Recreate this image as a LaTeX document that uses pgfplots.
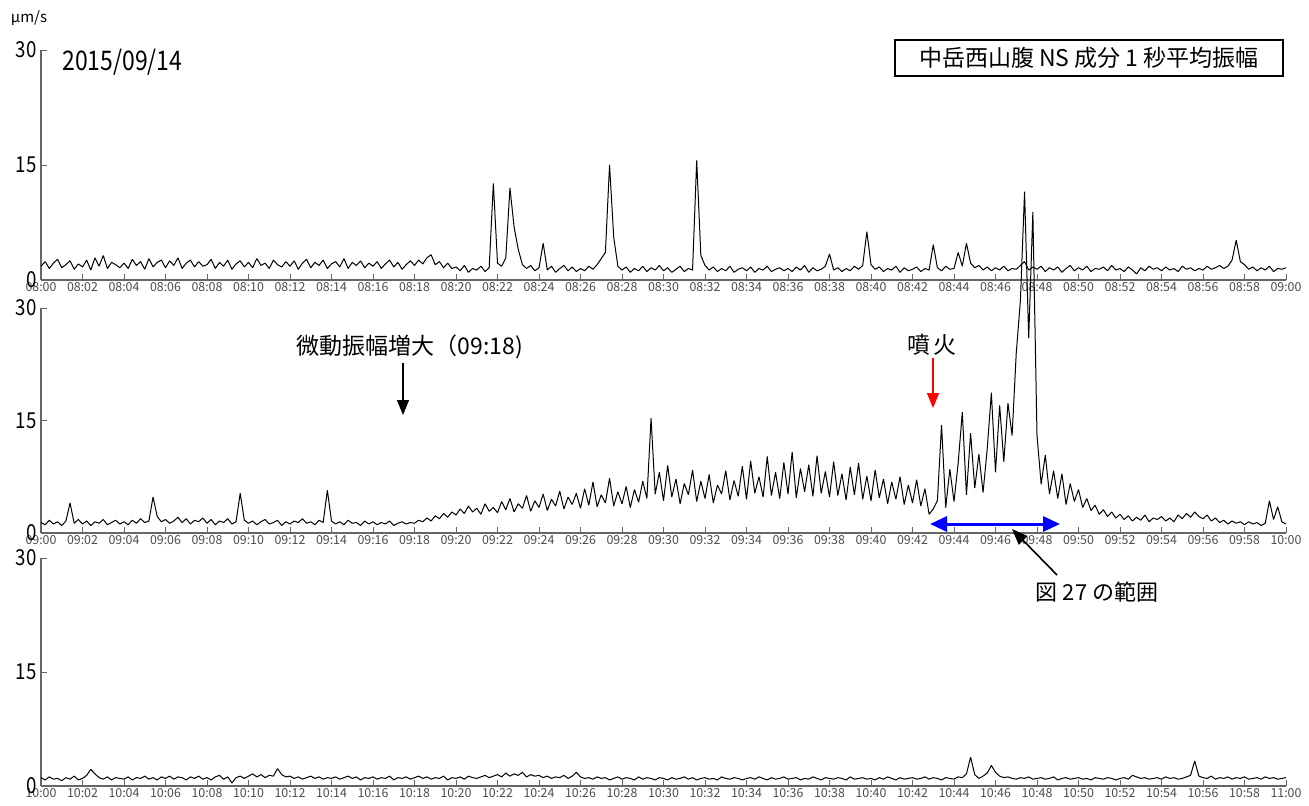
\documentclass[border=0pt]{standalone}
\usepackage{fontspec}
\setmainfont{Noto Sans CJK JP}
\newfontfamily\numfont[FakeStretch=0.85]{Noto Sans CJK JP}
\usepackage{pgfplots}
\pgfplotsset{compat=1.18}
\usetikzlibrary{arrows.meta}
\pgfplotsset{
 panel/.style={
  scale only axis, width=622.5pt, xmin=0, xmax=60, ymin=0, ymax=30,
  axis x line*=bottom, axis y line*=left,
  axis line style={black!60, line width=0.6pt},
  xtick={0,2,...,60}, ytick={0,15,30},
  tick align=inside, major tick length=3pt,
  tick style={black!60, line width=0.5pt},
  xticklabel style={font=\fontsize{6.2}{7}\selectfont, text=black!70, inner sep=1pt},
  yticklabel style={font=\numfont\fontsize{11}{12}\selectfont, inner sep=2pt},
  /pgf/number format/assume math mode=true,
  clip=false, anchor=south west,
 },
 trace/.style={black, line width=0.5pt, no marks, line join=bevel},
}
\begin{document}
\begin{tikzpicture}
\useasboundingbox (0,0) rectangle (654.5pt,402.5pt);
% ---------- panel 1: 08:00-09:00
\begin{axis}[panel, at={(20.5pt,262.5pt)}, height=115pt,
 xticklabels={08:00,08:02,08:04,08:06,08:08,08:10,08:12,08:14,08:16,08:18,08:20,08:22,08:24,08:26,08:28,08:30,08:32,08:34,08:36,08:38,08:40,08:42,08:44,08:46,08:48,08:50,08:52,08:54,08:56,08:58,09:00}]
\addplot[trace] table[row sep=\\, header=false, x expr=\coordindex*0.2, y index=0]{
1.8\\2.4\\1.5\\2.2\\2.7\\1.6\\2.0\\2.5\\1.4\\2.1\\
1.7\\2.6\\1.3\\2.9\\1.8\\3.2\\1.5\\2.3\\2.0\\1.6\\
2.2\\1.5\\2.7\\1.9\\2.4\\1.4\\2.8\\1.7\\2.3\\2.6\\
1.6\\2.5\\1.9\\2.9\\1.5\\2.2\\2.6\\1.7\\2.4\\1.8\\
2.0\\2.7\\1.5\\2.3\\1.8\\2.6\\1.4\\2.1\\2.5\\1.7\\
2.3\\1.6\\2.8\\1.9\\2.2\\1.5\\2.6\\2.0\\1.7\\2.4\\
1.8\\2.5\\1.4\\2.2\\2.7\\1.6\\2.3\\1.9\\2.6\\1.5\\
2.1\\2.4\\1.7\\2.8\\1.5\\2.3\\1.9\\2.5\\1.6\\2.2\\
1.8\\2.4\\1.5\\2.1\\2.6\\1.7\\2.3\\1.4\\2.0\\2.5\\
1.9\\2.6\\2.1\\2.9\\3.3\\2.0\\2.4\\1.6\\2.2\\1.5\\
1.7\\1.2\\1.9\\1.0\\1.5\\1.3\\1.8\\1.1\\1.6\\12.6\\
2.2\\1.8\\2.9\\12.0\\6.9\\4.0\\2.0\\1.5\\1.9\\1.2\\
1.6\\4.8\\1.3\\1.8\\1.0\\1.5\\1.9\\1.2\\1.7\\1.1\\
1.5\\1.2\\1.8\\1.4\\2.0\\2.8\\3.6\\15.0\\5.6\\1.8\\
1.3\\1.7\\1.0\\1.5\\1.2\\1.8\\1.1\\1.6\\1.3\\1.9\\
1.2\\1.6\\1.0\\1.4\\1.8\\1.1\\1.5\\1.3\\15.6\\3.2\\
1.9\\1.3\\1.7\\1.1\\1.5\\1.2\\1.8\\1.0\\1.4\\1.6\\
1.2\\1.7\\1.0\\1.5\\1.3\\1.8\\1.1\\1.4\\1.6\\1.2\\
1.5\\1.1\\1.7\\1.3\\1.9\\1.0\\1.6\\1.2\\1.4\\1.8\\
3.4\\1.3\\1.6\\1.1\\1.5\\1.2\\1.8\\1.4\\1.9\\6.3\\
2.0\\1.4\\1.7\\1.1\\1.5\\1.3\\1.8\\1.0\\1.6\\1.2\\
1.4\\1.7\\1.1\\1.5\\1.3\\4.6\\1.6\\1.2\\1.8\\1.4\\
1.5\\3.6\\1.8\\4.8\\2.2\\1.6\\1.9\\1.3\\1.7\\1.2\\
1.6\\1.3\\1.8\\1.2\\1.5\\1.4\\1.9\\2.4\\1.3\\1.7\\
1.4\\1.8\\1.1\\1.6\\1.3\\1.7\\1.0\\1.5\\1.9\\1.2\\
1.6\\1.3\\1.8\\1.1\\1.5\\1.4\\1.7\\1.2\\1.9\\1.3\\
1.5\\1.1\\1.7\\1.3\\0.8\\1.6\\1.2\\1.8\\1.4\\1.6\\
1.2\\1.7\\1.3\\1.5\\1.1\\1.8\\1.4\\1.6\\1.2\\1.5\\
1.3\\1.8\\1.4\\1.6\\1.9\\1.5\\1.8\\2.6\\5.2\\2.4\\
2.0\\1.4\\1.7\\1.2\\1.6\\1.3\\1.8\\1.1\\1.5\\1.4\\
1.6\\
};
\end{axis}
% ---------- panel 2: 09:00-10:00
\begin{axis}[panel, at={(20.5pt,136pt)}, height=112.5pt,
 xticklabels={09:00,09:02,09:04,09:06,09:08,09:10,09:12,09:14,09:16,09:18,09:20,09:22,09:24,09:26,09:28,09:30,09:32,09:34,09:36,09:38,09:40,09:42,09:44,09:46,09:48,09:50,09:52,09:54,09:56,09:58,10:00}]
\addplot[trace] table[row sep=\\, header=false, x expr=\coordindex*0.2, y index=0]{
1.4\\1.1\\1.7\\1.2\\1.5\\1.0\\1.6\\4.0\\1.3\\1.8\\
1.2\\1.6\\1.0\\1.5\\1.3\\1.8\\1.1\\1.4\\1.7\\1.2\\
1.5\\1.1\\1.7\\1.3\\1.9\\1.4\\1.6\\4.8\\2.2\\1.5\\
1.8\\1.3\\1.6\\2.1\\1.4\\1.9\\1.2\\1.7\\1.5\\2.0\\
1.3\\1.8\\1.1\\1.6\\1.4\\1.9\\1.2\\1.5\\5.3\\1.7\\
1.3\\1.6\\1.1\\1.5\\1.8\\1.2\\1.4\\1.7\\1.0\\1.5\\
1.2\\1.6\\1.4\\1.9\\1.3\\1.5\\1.1\\1.7\\1.4\\5.7\\
1.6\\1.2\\1.5\\1.1\\1.7\\1.3\\1.4\\1.0\\1.6\\1.2\\
1.5\\1.1\\1.4\\1.2\\1.6\\1.0\\1.3\\1.5\\1.2\\1.4\\
1.3\\1.7\\1.5\\2.0\\1.6\\2.3\\1.9\\2.6\\2.1\\2.8\\
2.4\\3.2\\2.6\\3.6\\2.8\\3.3\\2.5\\3.9\\2.9\\3.4\\
2.7\\4.2\\3.1\\4.6\\2.8\\3.9\\3.3\\5.0\\2.9\\4.3\\
3.4\\5.2\\3.0\\4.5\\3.6\\5.6\\3.2\\4.8\\3.8\\5.3\\
3.3\\5.9\\3.7\\6.8\\3.5\\5.1\\4.0\\7.3\\3.6\\5.5\\
3.9\\6.2\\3.4\\5.8\\4.1\\6.9\\4.6\\15.3\\5.2\\8.1\\
4.3\\9.0\\4.8\\7.2\\3.9\\6.6\\5.1\\8.4\\4.2\\6.9\\
4.6\\7.8\\4.0\\6.4\\5.2\\8.3\\4.4\\7.0\\4.9\\8.9\\
4.5\\9.6\\5.3\\7.5\\4.8\\10.2\\5.0\\8.1\\4.6\\9.4\\
5.2\\10.8\\4.7\\8.6\\5.5\\9.1\\4.9\\10.3\\5.3\\8.2\\
4.8\\9.5\\5.0\\7.9\\4.4\\8.8\\5.1\\9.3\\4.5\\7.6\\
4.3\\8.4\\4.7\\7.2\\3.9\\6.8\\4.5\\7.5\\3.8\\6.4\\
4.0\\7.1\\3.6\\5.9\\2.5\\3.2\\4.3\\14.4\\3.4\\8.5\\
4.2\\9.3\\16.1\\5.1\\13.3\\6.0\\10.5\\5.4\\11.2\\18.7\\
8.1\\17.0\\9.5\\17.3\\13.0\\24.0\\31.0\\45.5\\26.0\\42.8\\
13.0\\6.5\\10.4\\5.2\\8.3\\4.6\\7.9\\3.8\\6.6\\4.2\\
5.8\\3.4\\4.6\\3.0\\3.7\\2.5\\3.1\\2.2\\2.8\\2.0\\
2.5\\1.8\\2.3\\1.6\\2.1\\1.7\\2.4\\1.5\\2.0\\1.8\\
2.2\\1.6\\2.0\\1.5\\2.4\\1.9\\2.6\\2.1\\2.8\\2.2\\
1.9\\2.4\\1.6\\2.0\\1.4\\1.7\\1.2\\1.6\\1.3\\1.5\\
1.1\\1.5\\1.2\\1.4\\1.0\\1.3\\4.3\\1.8\\3.5\\1.5\\
1.2\\
};
\end{axis}
% ---------- panel 3: 10:00-11:00
\begin{axis}[panel, at={(20.5pt,9.5pt)}, height=114pt,
 xticklabels={10:00,10:02,10:04,10:06,10:08,10:10,10:12,10:14,10:16,10:18,10:20,10:22,10:24,10:26,10:28,10:30,10:32,10:34,10:36,10:38,10:40,10:42,10:44,10:46,10:48,10:50,10:52,10:54,10:56,10:58,11:00}]
\addplot[trace] table[row sep=\\, header=false, x expr=\coordindex*0.2, y index=0]{
1.1\\0.8\\1.2\\0.9\\1.0\\0.7\\1.1\\0.9\\1.3\\0.8\\
1.0\\1.4\\2.2\\1.6\\1.1\\0.9\\1.2\\0.8\\1.1\\1.0\\
0.9\\1.2\\0.8\\1.1\\1.0\\1.3\\0.9\\1.1\\0.8\\1.2\\
1.0\\1.3\\0.9\\1.2\\1.1\\0.8\\1.2\\1.0\\1.3\\0.9\\
1.1\\0.8\\1.2\\1.4\\0.9\\1.2\\0.4\\1.1\\1.3\\1.0\\
1.3\\1.6\\1.2\\1.5\\1.1\\1.4\\1.3\\2.3\\1.5\\1.2\\
1.3\\1.0\\1.2\\0.9\\1.1\\1.3\\1.0\\1.2\\0.9\\1.1\\
1.0\\1.2\\0.9\\1.1\\1.3\\1.0\\1.2\\0.8\\1.1\\1.0\\
1.2\\0.9\\1.1\\1.0\\1.3\\0.8\\1.1\\1.0\\1.2\\0.9\\
1.1\\1.3\\1.0\\1.2\\0.9\\1.1\\1.0\\1.3\\0.8\\1.1\\
1.0\\1.2\\0.9\\1.3\\1.1\\1.0\\1.2\\1.4\\1.1\\1.3\\
1.5\\1.2\\1.7\\1.3\\1.6\\1.4\\1.8\\1.2\\1.5\\1.3\\
1.4\\1.1\\1.3\\1.0\\1.2\\1.1\\1.4\\1.0\\1.3\\1.8\\
1.2\\1.0\\1.1\\0.9\\1.2\\1.0\\1.1\\0.8\\1.0\\1.2\\
0.9\\1.1\\1.0\\0.8\\1.2\\0.9\\1.1\\1.0\\0.8\\1.1\\
1.0\\0.8\\1.1\\0.9\\1.0\\1.2\\0.9\\1.1\\0.8\\1.0\\
1.1\\0.9\\1.0\\0.8\\1.2\\1.0\\0.9\\1.1\\1.0\\0.8\\
1.0\\1.1\\0.9\\1.2\\1.0\\0.8\\1.1\\0.9\\1.0\\1.2\\
0.9\\1.0\\1.1\\0.8\\1.0\\0.9\\1.2\\1.0\\0.8\\1.1\\
1.0\\0.9\\1.1\\1.0\\0.8\\1.2\\0.9\\1.0\\1.1\\0.9\\
1.0\\0.8\\1.1\\0.9\\1.2\\1.0\\0.8\\1.1\\0.9\\1.0\\
1.1\\0.9\\1.0\\1.2\\0.9\\1.1\\1.0\\0.8\\1.1\\1.0\\
0.9\\1.2\\1.1\\1.6\\3.8\\1.5\\1.0\\1.3\\1.7\\2.7\\
1.8\\1.3\\1.1\\1.2\\1.0\\0.9\\1.1\\1.0\\1.2\\0.9\\
1.0\\1.1\\0.9\\1.0\\1.2\\0.8\\1.0\\1.1\\0.9\\1.0\\
1.1\\0.9\\1.0\\0.8\\1.1\\1.0\\0.9\\1.1\\1.0\\0.8\\
1.0\\1.1\\0.9\\1.4\\1.2\\1.0\\1.1\\0.9\\1.0\\1.1\\
0.9\\1.2\\1.0\\1.1\\0.9\\1.0\\1.2\\1.4\\3.3\\1.3\\
1.1\\1.0\\1.3\\0.9\\1.1\\1.0\\1.2\\0.9\\1.1\\1.0\\
1.2\\0.9\\1.0\\1.1\\0.9\\1.2\\1.0\\1.1\\0.9\\1.0\\
1.1\\
};
\end{axis}
% ---------- annotations
\node[font=\fontsize{7.5}{8}\selectfont] at (14.5pt,393.5pt) {μm/s};
\node[anchor=west, inner sep=0pt, font=\numfont\fontsize{13.5}{14}\selectfont] at (31pt,371.5pt) {2015/09/14};
\node[draw, line width=0.8pt, minimum width=194pt, minimum height=18pt, inner sep=0pt,
 font=\fontsize{11.5}{12}\selectfont] at (544.5pt,373.5pt) {中岳西山腹 NS 成分 1 秒平均振幅};
\node[font=\fontsize{11.5}{12}\selectfont] at (205pt,229pt) {微動振幅増大（09:18)};
\draw[black, line width=0.6pt, -{Triangle[width=6pt,length=7.5pt]}] (201.5pt,221pt) -- (201.5pt,195pt);
\node[font=\fontsize{11.5}{12}\selectfont] at (466pt,230pt) {噴\,火};
\draw[red, line width=0.6pt, -{Triangle[width=6pt,length=7.5pt]}] (466.5pt,223.5pt) -- (466.5pt,198.5pt);
\draw[blue, line width=1.5pt, {Triangle[width=7.5pt,length=8.5pt]}-{Triangle[width=7.5pt,length=8.5pt]}] (465pt,140.5pt) -- (530pt,140.5pt);
\draw[black, line width=0.8pt, -{Triangle[width=6pt,length=8pt]}] (528.5pt,115pt) -- (506pt,138pt);
\node[font=\fontsize{11}{12}\selectfont] at (548.5pt,106.5pt) {図 27 の範囲};
\end{tikzpicture}
\end{document}
